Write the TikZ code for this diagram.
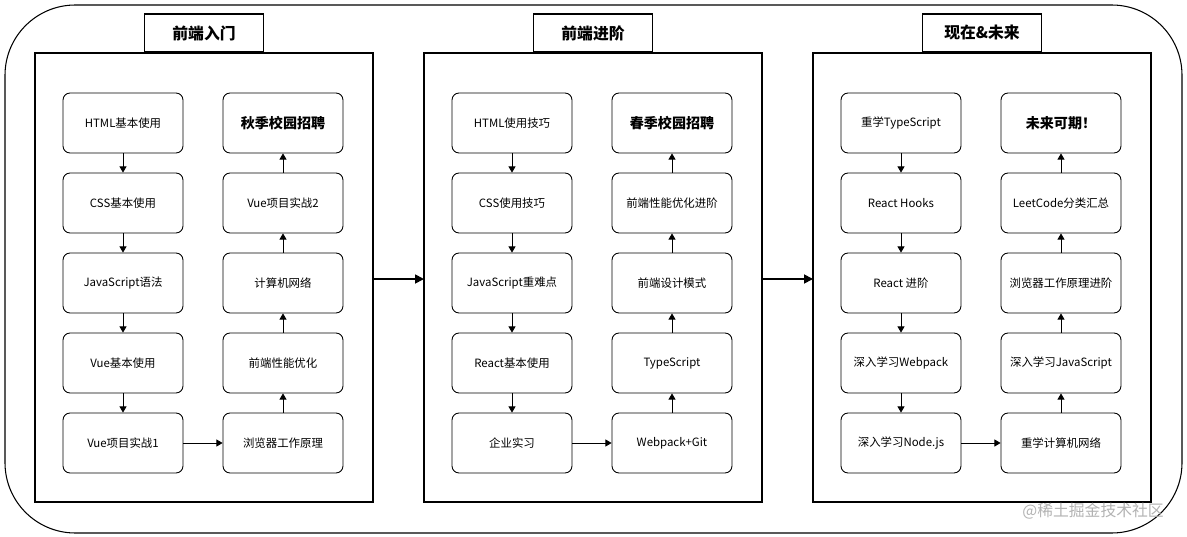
\documentclass[tikz,border=0pt]{standalone}
\usepackage{fontspec}
\setmainfont{Noto Sans CJK SC}
\usetikzlibrary{arrows.meta}
\tikzset{
  stage/.style={draw, rounded corners=4pt, minimum width=2.4cm, minimum height=1.2cm, font=\fontsize{6.5}{8}\selectfont, line width=0.5pt},
  goal/.style={stage, font=\fontsize{8}{10}\selectfont\bfseries},
  panel/.style={draw, line width=0.6pt},
  title/.style={draw, fill=white, minimum width=2.38cm, minimum height=0.76cm, font=\fontsize{9}{11}\selectfont\bfseries, line width=0.6pt},
  flow/.style={-{Triangle[length=3.5pt,width=4pt]}, line width=0.5pt},
  bigflow/.style={-{Triangle[length=5pt,width=5pt]}, line width=1pt}
}
\begin{document}
\begin{tikzpicture}[x=0.02cm,y=-0.02cm]
  \useasboundingbox (0,0) rectangle (1187,537);
  % outer frame
  \draw[line width=0.6pt, rounded corners=40pt] (5,5) rectangle (1182,533);

  % panels
  \foreach \i/\t in {0/前端入门, 1/前端进阶, 2/现在\&未来} {
    \draw[panel] (35+389*\i,53) rectangle (373+389*\i,502);
    \node[title] (t\i) at (204+389*\i,33) {\t};
  }

  % panel 1
  \node[stage] (a1) at (123,123) {HTML基本使用};
  \node[stage] (a2) at (123,203) {CSS基本使用};
  \node[stage] (a3) at (123,283) {JavaScript语法};
  \node[stage] (a4) at (123,363) {Vue基本使用};
  \node[stage] (a5) at (123,443) {Vue项目实战1};
  \node[stage] (a6) at (283,443) {浏览器工作原理};
  \node[stage] (a7) at (283,363) {前端性能优化};
  \node[stage] (a8) at (283,283) {计算机网络};
  \node[stage] (a9) at (283,203) {Vue项目实战2};
  \node[goal] (a10) at (283,123) {秋季校园招聘};

  % panel 2
  \node[stage] (b1) at (512,123) {HTML使用技巧};
  \node[stage] (b2) at (512,203) {CSS使用技巧};
  \node[stage] (b3) at (512,283) {JavaScript重难点};
  \node[stage] (b4) at (512,363) {React基本使用};
  \node[stage] (b5) at (512,443) {企业实习};
  \node[stage] (b6) at (672,443) {Webpack+Git};
  \node[stage] (b7) at (672,363) {TypeScript};
  \node[stage] (b8) at (672,283) {前端设计模式};
  \node[stage] (b9) at (672,203) {前端性能优化进阶};
  \node[goal] (b10) at (672,123) {春季校园招聘};

  % panel 3
  \node[stage] (c1) at (901,123) {重学TypeScript};
  \node[stage] (c2) at (901,203) {React Hooks};
  \node[stage] (c3) at (901,283) {React 进阶};
  \node[stage] (c4) at (901,363) {深入学习Webpack};
  \node[stage] (c5) at (901,443) {深入学习Node.js};
  \node[stage] (c6) at (1061,443) {重学计算机网络};
  \node[stage] (c7) at (1061,363) {深入学习JavaScript};
  \node[stage] (c8) at (1061,283) {浏览器工作原理进阶};
  \node[stage] (c9) at (1061,203) {LeetCode分类汇总};
  \node[goal] (c10) at (1061,123) {未来可期！};

  \foreach \p in {a,b,c} {
    \foreach \j [evaluate=\j as \k using int(\j+1)] in {1,...,9}
      \draw[flow] (\p\j) -- (\p\k);
  }

  % between panels
  \coordinate (p1) at (373,279);
  \coordinate (p2) at (424,279);
  \coordinate (p3) at (762,279);
  \coordinate (p4) at (813,279);
  \draw[bigflow] (p1) -- (p2);
  \draw[bigflow] (p3) -- (p4);

  \node[text=black!30, font=\fontsize{9}{11}\selectfont, anchor=east] (wm) at (1170,511) {@稀土掘金技术社区};
\end{tikzpicture}
\end{document}
